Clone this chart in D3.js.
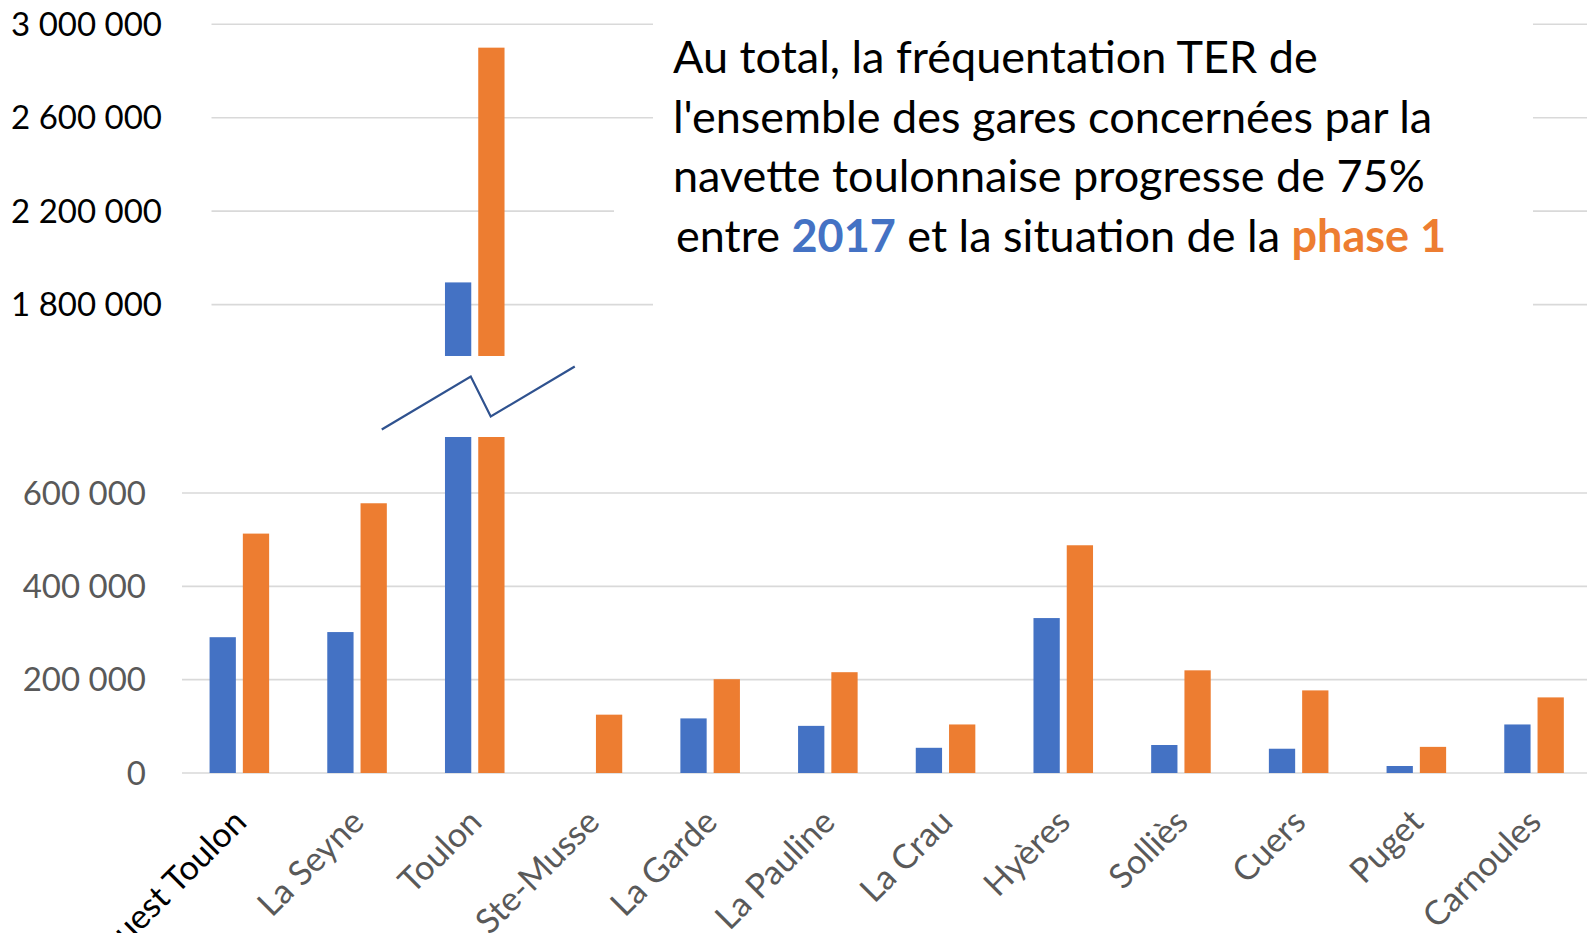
<!DOCTYPE html>
<html>
<head>
<meta charset="utf-8">
<script src="https://cdn.jsdelivr.net/npm/d3@7/dist/d3.min.js"></script>
<style>
  body { margin: 0; background: #fff; }
  text { font-family: Lato, "Open Sans", sans-serif; }
</style>
</head>
<body>
<svg id="chart"></svg>
<script>
// gares desservies par la navette toulonnaise
const categories = ['Ouest Toulon', 'La Seyne', 'Toulon', 'Ste-Musse', 'La Garde', 'La Pauline',
  'La Crau', 'Hyères', 'Solliès', 'Cuers', 'Puget', 'Carnoules'];
const values2017 = [291000, 302000, 1895000, 0, 117000, 101000, 54000, 332000, 60000, 52000, 15000, 104000];
const valuesPhase1 = [513000, 578000, 2900000, 125000, 201000, 216000, 104000, 488000, 220000, 177000, 56000, 162000];
const seriesNames = ['2017', 'phase 1'];
const seriesColors = ['#4472c4', '#ed7d31'];
const lowTicks = [0, 200000, 400000, 600000];
const highTicks = [1800000, 2200000, 2600000, 3000000];
// limites de la coupure d'axe
const lowCap = 720000;
const highStart = 1580000;
const noteLines = [
  [{ t: 'Au total, la fréquentation TER de' }],
  [{ t: "l'ensemble des gares concernées par la" }],
  [{ t: 'navette toulonnaise progresse de 75%' }],
  [{ t: 'entre ' }, { t: '2017', s: 0 }, { t: ' et la situation de la ' }, { t: 'phase 1', s: 1 }],
];

const width = 1587;
const height = 933;

const svg = d3.select('#chart')
  .attr('width', width)
  .attr('height', height);

svg.append('rect')
  .attr('width', width)
  .attr('height', height)
  .attr('fill', '#fff');

const x = d3.scaleBand()
  .domain(categories)
  .range([180.5, 180.5 + 117.7 * categories.length])
  .paddingInner(0.494)
  .paddingOuter(0.247);

const xSub = d3.scaleBand()
  .domain(seriesNames)
  .range([0, x.bandwidth()])
  .paddingInner(0.21);

const yLow = d3.scaleLinear().domain([0, 600000]).range([773, 493]);
const yHigh = d3.scaleLinear().domain([1800000, 3000000]).range([304.6, 24.3]);

const fmt = d3.formatLocale({ decimal: ',', thousands: ' ', grouping: [3], currency: ['', ' €'] }).format(',d');

// grilles
const grid = svg.append('g');
grid.selectAll('.gl')
  .data(lowTicks)
  .join('line')
  .attr('x1', 182)
  .attr('x2', width)
  .attr('y1', (d) => yLow(d))
  .attr('y2', (d) => yLow(d))
  .attr('stroke', '#d9d9d9')
  .attr('stroke-width', 1.6);
grid.selectAll('.gh')
  .data(highTicks)
  .join('line')
  .attr('x1', 211.5)
  .attr('x2', width)
  .attr('y1', (d) => yHigh(d))
  .attr('y2', (d) => yHigh(d))
  .attr('stroke', '#d9d9d9')
  .attr('stroke-width', 1.6);

// étiquettes des axes Y
svg.append('g')
  .selectAll('text')
  .data(lowTicks)
  .join('text')
  .attr('x', 146)
  .attr('y', (d) => yLow(d))
  .attr('dy', '0.35em')
  .attr('text-anchor', 'end')
  .attr('font-size', 33)
  .attr('fill', '#595959')
  .text(fmt);
svg.append('g')
  .selectAll('text')
  .data(highTicks)
  .join('text')
  .attr('x', 162)
  .attr('y', (d) => yHigh(d))
  .attr('dy', '0.35em')
  .attr('text-anchor', 'end')
  .attr('font-size', 33)
  .attr('fill', '#000')
  .text(fmt);

// barres
const rows = [];
categories.forEach((c, i) => {
  [values2017[i], valuesPhase1[i]].forEach((v, s) => {
    rows.push({ c, s, v });
  });
});

const bars = svg.append('g');
rows.forEach((d) => {
  const bx = x(d.c) + xSub(seriesNames[d.s]);
  const col = seriesColors[d.s];
  if (d.v <= 0) return;
  if (d.v <= lowCap) {
    bars.append('rect')
      .attr('x', bx).attr('width', xSub.bandwidth())
      .attr('y', yLow(d.v)).attr('height', yLow(0) - yLow(d.v))
      .attr('fill', col);
  } else {
    bars.append('rect')
      .attr('x', bx).attr('width', xSub.bandwidth())
      .attr('y', yLow(lowCap)).attr('height', yLow(0) - yLow(lowCap))
      .attr('fill', col);
    bars.append('rect')
      .attr('x', bx).attr('width', xSub.bandwidth())
      .attr('y', yHigh(d.v)).attr('height', yHigh(highStart) - yHigh(d.v))
      .attr('fill', col);
  }
});

// symbole de coupure
const bigIdx = values2017.findIndex((v, i) => Math.max(v, valuesPhase1[i]) > lowCap);
const cx = x(categories[bigIdx]) + x.bandwidth() / 2;
const my = (yLow(lowCap) + yHigh(highStart)) / 2;
svg.append('path')
  .attr('d', d3.line()([[cx - 93, my + 33], [cx - 4, my - 20], [cx + 16, my + 20], [cx + 100, my - 30]]))
  .attr('fill', 'none')
  .attr('stroke', '#2f528f')
  .attr('stroke-width', 2.2);

// étiquettes des catégories
svg.append('g')
  .selectAll('text')
  .data(categories)
  .join('text')
  .attr('transform', (d) => `translate(${x(d) + x.bandwidth() / 2 + 9},824) rotate(-45)`)
  .attr('text-anchor', 'end')
  .attr('font-size', 34)
  .attr('fill', (d, i) => (i === 0 ? '#000' : '#595959'))
  .text((d) => d);

// encadré de commentaire
svg.append('rect').attr('x', 653).attr('y', 8).attr('width', 880).attr('height', 318).attr('fill', '#fff');
svg.append('rect').attr('x', 614).attr('y', 196).attr('width', 919).attr('height', 70).attr('fill', '#fff');

const note = svg.append('text')
  .attr('font-size', 45)
  .attr('fill', '#000');
noteLines.forEach((parts, li) => {
  const line = note.append('tspan')
    .attr('x', li === 3 ? 676 : 673)
    .attr('y', 73 + li * 59.5);
  parts.forEach((p) => {
    line.append('tspan')
      .attr('font-weight', p.s === undefined ? null : 'bold')
      .attr('fill', p.s === undefined ? null : seriesColors[p.s])
      .text(p.t);
  });
});
</script>
</body>
</html>
